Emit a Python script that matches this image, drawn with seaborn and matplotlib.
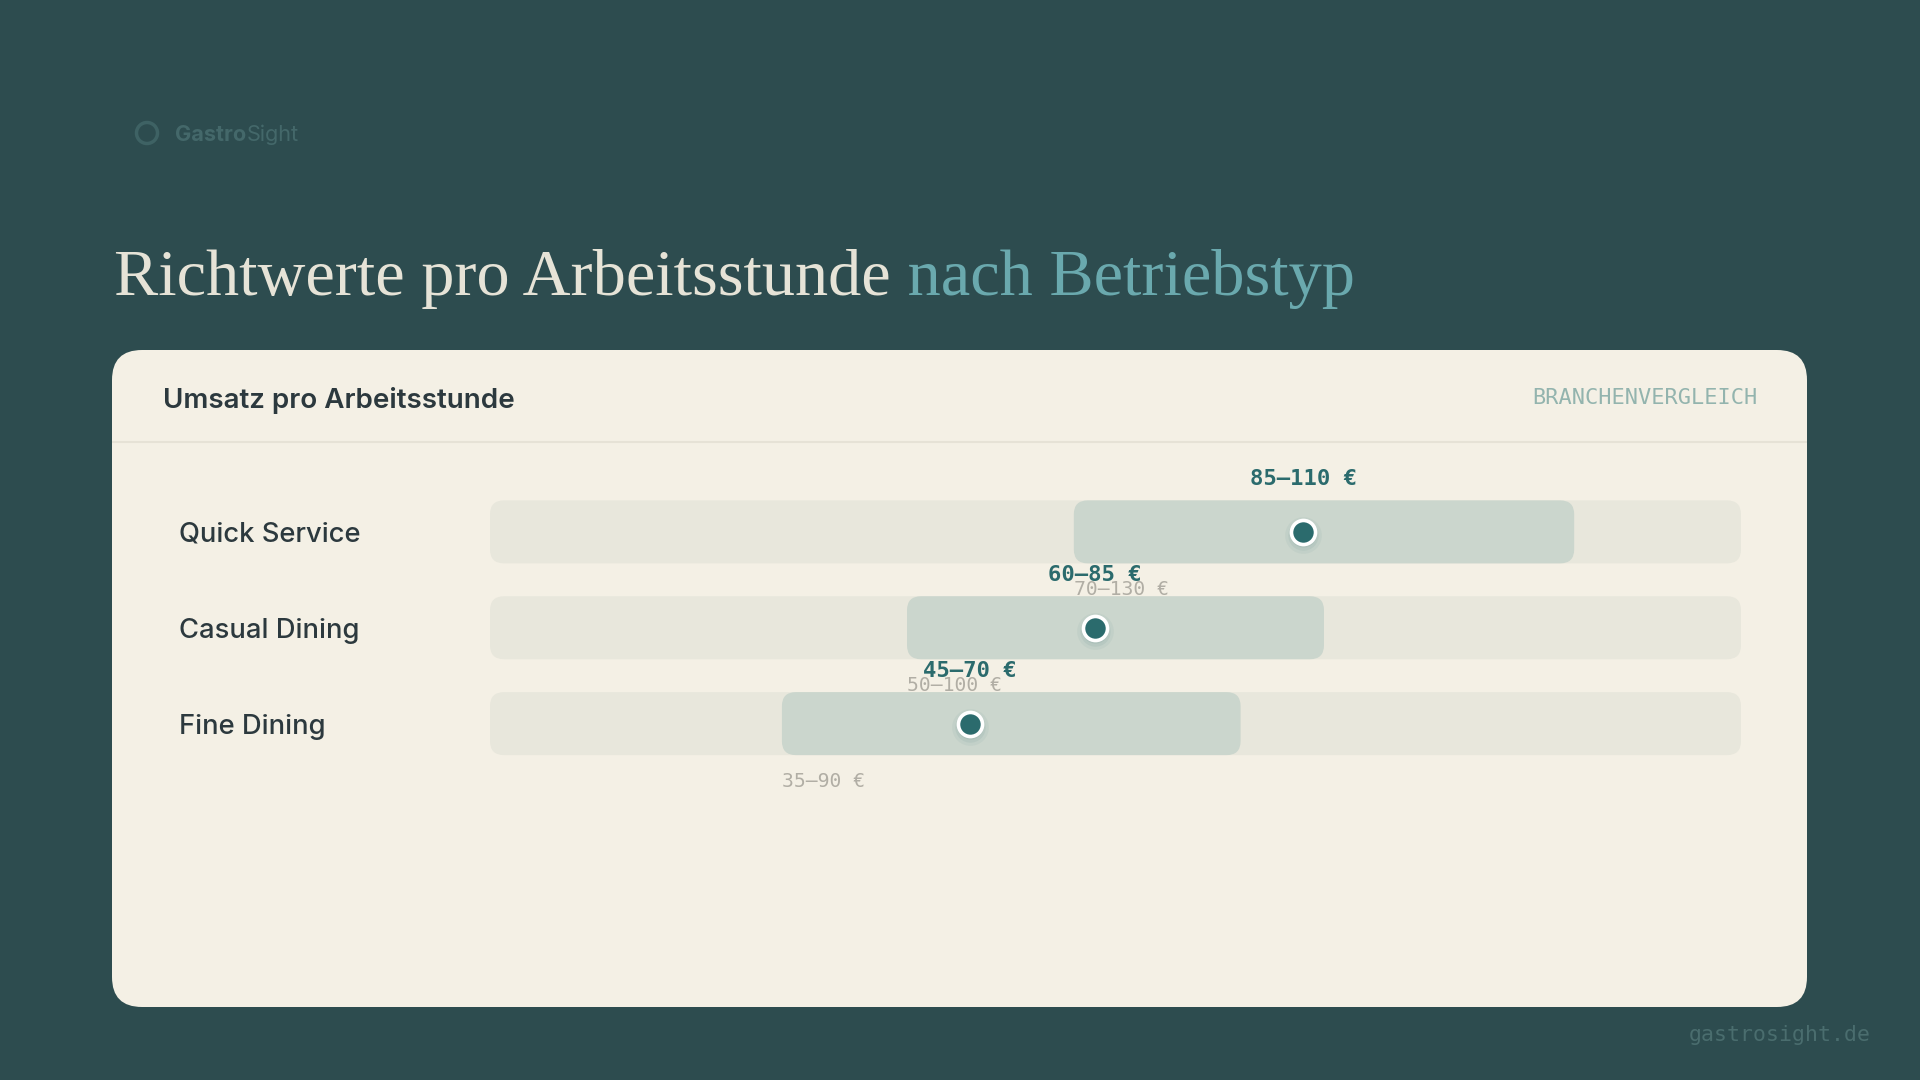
import matplotlib
matplotlib.use("Agg")
import matplotlib.pyplot as plt
from matplotlib.patches import FancyBboxPatch, Circle
from matplotlib import transforms
import seaborn as sns
import pandas as pd
import numpy as np

# Daten
betriebstypen = ["Quick Service", "Casual Dining", "Fine Dining"]
spanne_min = [70, 50, 35]
spanne_max = [130, 100, 90]
typisch_min = [85, 60, 45]
typisch_max = [110, 85, 70]
skala_max = 150

titel_haupt = "Richtwerte pro Arbeitsstunde"
titel_akzent = " nach Betriebstyp"
karten_titel = "Umsatz pro Arbeitsstunde"
karten_tag = "BRANCHENVERGLEICH"
marke_fett = "Gastro"
marke_normal = "Sight"
fusszeile = "gastrosight.de"

# Farben
BG = "#2d4c4f"
CARD = "#f4f0e5"
TRACK = "#e8e7dc"
RANGE = "#cbd6cd"
DOT = "#2b6b6d"
TEXT_DARK = "#2c393e"
TITLE_LIGHT = "#e6e3d7"
TITLE_ACCENT = "#6aa9ae"
TAG = "#93b4ae"
GRAY_LABEL = "#b1aea5"
LOGO = "#44686a"
LINE = "#e6e2d6"

SANS = "Inter"
MONO = "DejaVu Sans Mono"
SERIF = "Liberation Serif"

sns.set_theme(style="white")
plt.rcParams["font.family"] = [SANS, "DejaVu Sans"]

W, H = 1920, 1080
fig = plt.figure(figsize=(19.2, 10.8), dpi=100)
fig.patch.set_facecolor(BG)

# Hintergrund-Achse in Pixelkoordinaten
bg = fig.add_axes([0, 0, 1, 1])
bg.set_xlim(0, W)
bg.set_ylim(H, 0)
bg.axis("off")

# Logo
bg.add_patch(Circle((147, 133), 10.5, fill=False, ec="#3e6264", lw=2.5))
t_logo = bg.text(175, 141, marke_fett, fontsize=15.6, fontweight="bold", color=LOGO, va="baseline", ha="left")
bg.annotate(marke_normal, xy=(1, 0), xycoords=t_logo, fontsize=15.6, color=LOGO, va="bottom", ha="left")

# Titel
t1 = bg.text(114, 295, titel_haupt, fontsize=47.7, family=SERIF, color=TITLE_LIGHT, va="baseline", ha="left")
bg.annotate(titel_akzent, xy=(1, 0), xycoords=t1, fontsize=47.7, family=SERIF, color=TITLE_ACCENT,
            va="bottom", ha="left")

# Karte
bg.add_patch(FancyBboxPatch((112, 350), 1807 - 112, 1007 - 350,
                            boxstyle="round,pad=0,rounding_size=30", fc=CARD, ec="none"))
bg.plot([112, 1807], [442, 442], color=LINE, lw=1.5, solid_capstyle="butt")
bg.text(163, 400.5, karten_titel, fontsize=20, fontweight="semibold", color=TEXT_DARK, va="center", ha="left")
bg.text(1757, 398, karten_tag, fontsize=15.8, family=MONO, color=TAG, va="center", ha="right")

# Fusszeile
bg.text(1871, 1035, fusszeile, fontsize=15.5, family=MONO, color="#4a6d6e", va="center", ha="right")

# Diagramm-Achse
ax_left, ax_right = 490, 1741
ax_top, ax_bottom = 436, 819.5
ax = fig.add_axes([ax_left / W, (H - ax_bottom) / H, (ax_right - ax_left) / W, (ax_bottom - ax_top) / H])
ax.patch.set_alpha(0)

df = pd.DataFrame({
    "typ": betriebstypen,
    "lo": spanne_min,
    "hi": spanne_max,
    "tlo": typisch_min,
    "thi": typisch_max,
})
df["pos"] = np.arange(len(df))
df["mitte"] = (df["tlo"] + df["thi"]) / 2

ylim = (3.0, -1.0)
bar_h = 63 / ((ax_bottom - ax_top) / (ylim[0] - ylim[1]))
x_per_px = skala_max / (ax_right - ax_left)
y_per_px = (ylim[0] - ylim[1]) / (ax_bottom - ax_top)
asp = y_per_px / x_per_px
r_track = 14 * x_per_px

for _, row in df.iterrows():
    ax.add_patch(FancyBboxPatch((0, row.pos - bar_h / 2), skala_max, bar_h,
                                boxstyle=f"round,pad=0,rounding_size={r_track}",
                                mutation_aspect=asp, fc=TRACK, ec="none", zorder=1))
    ax.add_patch(FancyBboxPatch((row.lo, row.pos - bar_h / 2), row.hi - row.lo, bar_h,
                                boxstyle=f"round,pad=0,rounding_size={r_track}",
                                mutation_aspect=asp, fc=RANGE, ec="none", zorder=2))

# Schatten der Punkte
for dy, s, a in [(-3, 700, 0.05), (-3, 480, 0.07), (-2, 360, 0.08)]:
    sh = transforms.offset_copy(ax.transData, fig=fig, x=0, y=dy, units="dots")
    ax.scatter(df["mitte"], df["pos"], s=s, color="#2b6b6d", alpha=a, linewidths=0, transform=sh, zorder=3)

sns.scatterplot(data=df, x="mitte", y="pos", ax=ax, s=300, color=DOT, edgecolor="white",
                linewidth=2.6, zorder=5, legend=False)

for _, row in df.iterrows():
    ax.annotate(f"{row.tlo}–{row.thi} €", xy=(row.mitte, row.pos - bar_h / 2), xytext=(0, 15.5),
                textcoords="offset points", ha="center", va="center", family=MONO,
                fontweight="bold", fontsize=16, color=DOT, zorder=6)
    ax.annotate(f"{row.lo}–{row.hi} €", xy=(row.lo, row.pos + bar_h / 2), xytext=(0, -19),
                textcoords="offset points", ha="left", va="center", family=MONO,
                fontsize=14.2, color=GRAY_LABEL, zorder=6)

ax.set_xlim(0, skala_max)
ax.set_ylim(*ylim)
ax.set_xticks([])
ax.set_yticks(df["pos"], labels=df["typ"])
ax.tick_params(axis="y", length=0, pad=(ax_left - 179) * 0.72, labelsize=19.7, labelcolor=TEXT_DARK)
for lab in ax.get_yticklabels():
    lab.set_horizontalalignment("left")
    lab.set_fontweight("medium")
ax.set_xlabel("")
ax.set_ylabel("")
sns.despine(ax=ax, left=True, bottom=True)

fig.savefig("out.png", dpi=100, facecolor=BG)
